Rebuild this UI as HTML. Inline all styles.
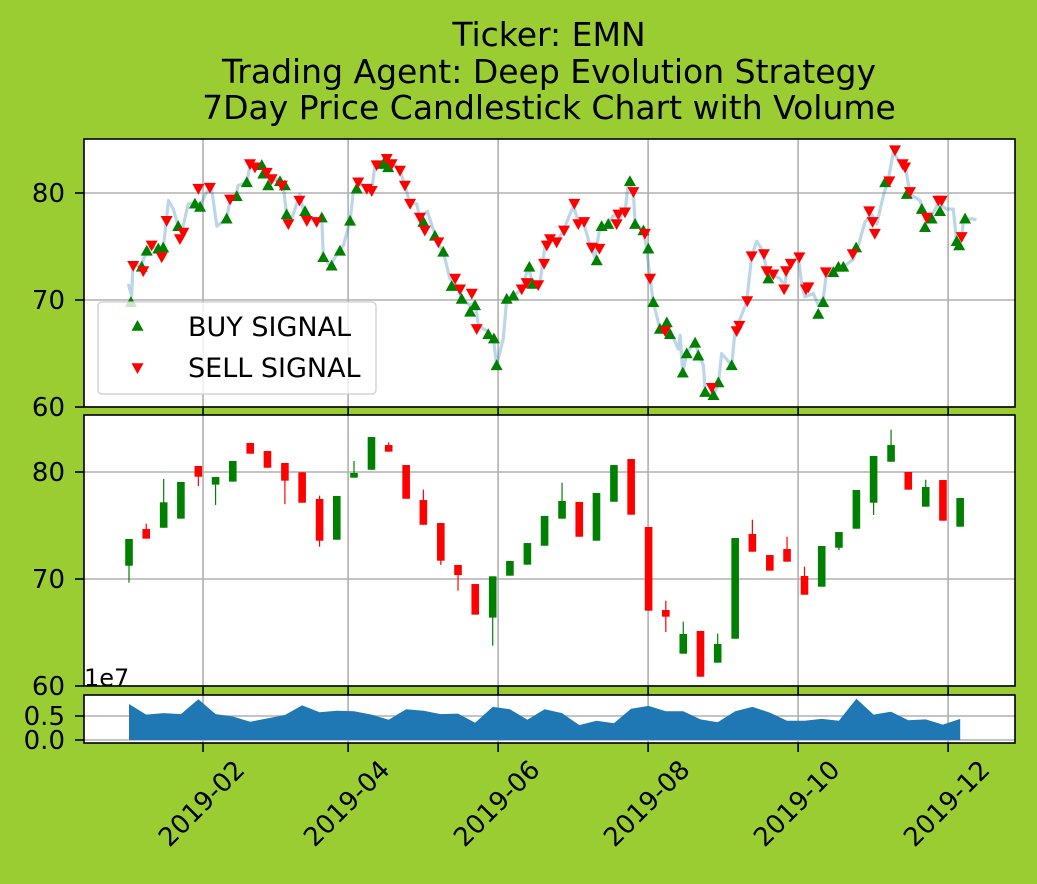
<!DOCTYPE html>
<html><head><meta charset="utf-8"><style>
html,body{margin:0;padding:0;background:#9acd32;}
svg{display:block;font-family:"DejaVu Sans","Liberation Sans",sans-serif;}
</style></head><body>
<svg id="chart" width="1037" height="884" viewBox="0 0 1037 884">
<rect width="1037" height="884" fill="#9acd32"/>
<g font-size="33" text-anchor="middle" fill="#000">
<text x="549" y="46">Ticker: EMN</text>
<text x="549" y="83">Trading Agent: Deep Evolution Strategy</text>
<text x="549" y="119">7Day Price Candlestick Chart with Volume</text>
</g>
<g id="g"></g>
</svg>
<script>
// ---------- data ----------
const lineDays=[0.6,2.0,2.5,6.1,8.1,10.1,13.5,14.8,16.2,16.9,18.9,20.9,22.3,25.0,28.4,29.8,32.5,34.5,36.6,40.6,42.0,44.7,45.2,48.8,50.1,52.8,55.5,56.9,58.2,61.0,63.6,65.0,67.1,70.4,71.8,73.8,77.2,79.3,79.9,82.6,86.0,88.1,90.8,92.1,94.1,97.6,99.6,100.9,105.7,107.7,109.1,111.1,113.1,115.2,117.9,119.2,122.2,124.6,126.7,128.7,131.4,134.2,136.2,139.6,141.6,143.0,146.4,149.1,150.4,153.1,154.5,157.2,160.6,163.3,165.3,168.0,170.1,172.1,174.8,177.5,181.6,183.6,185.6,188.4,190.4,192.4,195.8,197.9,200.6,202.6,204.0,206.0,206.7,210.1,211.4,212.8,214.1,216.8,219.6,221.6,224.3,225.0,226.1,227.7,231.1,233.1,234.5,235.2,238.6,240.6,241.9,246.0,247.3,252.1,254.1,256.2,258.9,260.2,262.9,265.6,267.6,268.3,270.4,273.1,274.5,275.8,279.2,281.2,283.2,284.6,287.3,291.4,295.4,297.5,300.2,302.9,305.0,307.6,309.7,311.7,314.4,316.5,318.5,320.5,322.6,324.6,327.3,330.0,333.4,336.1,337.5,339.5,340.2,343.6,345.5];
const linePrices=[71.5,70.4,73.2,73.4,74.5,75.1,74.5,74.8,77.6,79.3,78.5,76.9,76.3,79.0,79.1,78.8,80.1,80.4,76.9,77.6,79.4,79.9,80.7,81.0,82.6,82.4,82.6,81.9,81.0,81.3,80.7,78.0,77.6,79.9,78.3,77.6,77.4,77.6,74.1,73.2,74.5,75.1,77.4,80.1,81.0,80.4,80.2,82.6,82.7,82.6,82.6,82.1,80.7,79.0,79.0,77.6,78.3,76.6,75.2,74.5,72.0,71.3,70.1,69.5,69.8,67.6,67.1,66.4,63.9,66.4,70.1,70.4,71.0,73.1,71.3,71.6,75.1,75.7,75.4,76.5,78.8,77.3,77.3,75.1,74.0,76.8,77.1,77.9,77.7,78.2,81.0,80.1,77.1,76.5,74.8,72.0,69.8,67.3,67.9,66.8,65.4,66.7,63.2,65.1,66.0,64.6,63.9,61.4,61.1,62.1,65.0,63.9,67.0,69.8,74.1,75.5,74.5,72.7,72.3,72.0,71.3,72.7,73.4,74.0,71.3,70.3,70.6,69.5,70.1,72.6,72.6,73.1,73.8,75.1,77.3,78.0,77.1,79.7,81.3,83.8,82.9,82.6,79.9,79.6,79.3,77.6,77.9,79.0,78.5,78.5,75.4,75.7,77.4,77.6,77.5];
const buyDays=[1.7,6.1,8.1,12.8,14.8,20.9,27.7,29.8,40.6,44.7,48.8,54.9,55.5,57.5,62.3,64.3,65.0,72.5,79.3,79.9,83.3,86.7,90.8,93.5,104.3,106.3,120.6,125.3,128.7,132.1,136.2,139.6,141.6,147.0,149.3,150.4,154.5,157.2,163.7,165.1,191.1,193.1,195.8,204.6,206.7,210.1,212.1,214.1,216.8,219.6,220.9,226.1,227.7,231.1,232.4,235.2,238.6,240.6,246.0,260.9,281.2,283.2,287.3,289.4,291.4,296.6,308.4,317.2,323.3,324.6,327.3,330.7,337.5,338.5,340.9];
const buyPrices=[69.8,73.1,74.6,74.8,74.9,76.9,79.0,78.7,77.6,79.7,81.0,82.6,81.8,80.7,81.1,80.7,78.0,78.3,77.7,74.0,73.2,74.6,77.4,80.4,82.7,82.4,77.3,76.0,74.5,71.3,70.1,68.9,69.5,66.8,66.4,63.9,70.1,70.4,73.1,71.5,73.7,76.9,77.1,81.1,77.1,76.5,74.8,69.8,67.3,67.9,66.8,63.2,65.0,66.0,64.8,61.4,61.1,62.3,63.9,72.0,68.7,69.8,72.6,73.1,73.1,74.9,81.0,79.9,78.5,76.8,77.6,78.3,75.5,75.1,77.6];
const sellDays=[2.6,6.7,10.1,14.2,16.2,21.6,23.0,29.1,33.8,42.0,50.1,52.1,56.9,58.9,63.0,65.7,70.2,73.2,77.2,94.1,97.6,99.6,101.6,105.7,107.7,111.1,113.1,115.2,119.2,121.2,126.7,133.5,135.5,140.3,142.3,160.6,162.6,167.3,169.7,170.8,172.1,174.8,177.8,182.0,183.6,186.0,189.1,192.2,199.2,199.9,202.6,206.0,210.7,212.8,218.9,237.9,248.0,249.1,252.3,254.1,259.1,260.2,262.9,267.3,268.1,270.0,273.5,276.2,277.2,284.3,295.2,301.9,303.3,304.2,310.1,312.4,315.5,316.5,318.5,325.3,330.0,331.4,339.5];
const sellPrices=[73.2,72.7,75.1,74.0,77.4,75.7,76.3,80.4,80.5,79.4,82.7,82.4,81.9,81.3,80.7,77.1,79.3,77.4,77.3,81.0,80.4,80.2,82.6,83.2,82.7,82.1,80.7,79.0,77.7,76.5,75.4,72.0,71.0,70.6,67.3,71.0,71.6,71.4,73.4,75.1,75.7,75.4,76.5,79.0,77.1,77.3,74.9,74.8,77.1,78.0,78.2,80.1,76.2,72.0,67.1,61.8,67.1,67.6,69.9,74.1,74.3,72.7,72.4,71.0,72.7,73.4,74.0,71.0,71.2,72.6,74.3,78.3,77.3,76.2,81.1,84.0,82.7,82.4,80.1,77.7,79.3,79.3,75.9];
// weekly candles
const candleDays=[0.9,7.9,15.0,22.0,29.1,36.1,43.1,50.2,57.2,64.3,71.3,78.4,85.4,92.4,99.5,106.5,113.6,120.6,127.7,134.7,141.7,148.8,155.8,162.9,169.9,177.0,184.0,191.0,198.1,205.1,212.2,219.2,226.3,233.3,240.3,247.4,254.4,261.5,268.5,275.6,282.6,289.6,296.7,303.7,310.8,317.8,324.9,331.9,338.9];
const opens=[71.24,74.67,74.79,75.64,80.56,78.82,79.1,82.71,81.96,80.84,79.97,77.48,73.67,79.47,80.21,82.52,80.65,77.38,75.23,71.31,69.53,66.39,70.31,71.34,73.11,75.64,77.2,73.58,77.22,81.21,74.86,67.1,63.02,65.14,62.18,64.42,74.21,72.24,72.8,70.28,69.28,72.92,74.7,77.13,80.96,80.0,76.76,79.25,74.89];
const closes=[73.74,73.77,77.17,79.07,79.56,79.53,81.03,81.71,80.4,79.19,77.13,73.58,77.76,79.91,83.27,81.9,77.5,75.07,71.71,70.37,66.67,70.25,71.68,73.36,75.89,77.29,73.95,78.04,80.65,76.01,67.04,66.48,64.86,60.87,63.93,73.83,72.55,70.78,71.62,68.53,73.08,74.39,78.32,81.5,82.52,78.35,78.6,75.45,77.57];
const highs=[73.74,75.17,79.35,79.07,80.56,79.53,81.03,82.71,81.96,80.84,79.97,77.79,77.76,81.03,83.27,82.77,80.65,78.35,75.23,71.31,69.53,70.25,71.68,73.36,75.89,79.0,77.2,78.04,80.65,81.21,74.86,67.97,66.01,65.14,64.89,73.83,75.54,72.24,73.95,71.15,73.08,74.39,78.32,81.5,83.95,80.0,79.28,79.25,77.57];
const lows=[69.65,73.77,74.79,75.64,78.69,76.92,79.1,81.71,80.4,77.0,77.13,73.02,73.67,79.47,80.21,81.9,77.5,75.07,71.31,68.91,66.67,63.77,70.31,71.34,73.11,75.64,73.95,73.58,77.22,76.01,67.04,65.05,63.02,60.87,62.18,64.42,72.55,70.78,71.62,68.53,69.28,72.71,74.7,75.98,80.96,78.35,76.76,75.45,74.89];
const volumes=[0.75,0.53,0.56,0.54,0.85,0.54,0.49,0.38,0.45,0.52,0.72,0.58,0.61,0.60,0.53,0.42,0.64,0.61,0.54,0.55,0.36,0.69,0.64,0.42,0.64,0.56,0.31,0.40,0.35,0.65,0.71,0.60,0.60,0.43,0.37,0.60,0.69,0.57,0.40,0.40,0.44,0.40,0.86,0.53,0.59,0.41,0.43,0.32,0.44];
const priceTicks=[60,70,80];
const volTicks=[0.0,0.5];
const dateTickDays=[31,90,151,212,273,334];
const dateTickLabels=["2019-02","2019-04","2019-06","2019-08","2019-10","2019-12"];

// ---------- scales ----------
const X0=84,X1=1015;
const xs=d=>126.8+2.459*d;
const P1={top:139,bot:407}, P2={top:415,bot:686}, P3={top:695,bot:743};
const y1=p=>407-(p-60)*10.7;
const y2=p=>686-(p-60)*10.7;
const y3=v=>740-v*48;
const NS="http://www.w3.org/2000/svg";
const g=document.getElementById('g');
function el(tag,attrs,parent){const e=document.createElementNS(NS,tag);for(const k in attrs)e.setAttribute(k,attrs[k]);(parent||g).appendChild(e);return e;}

function panel(p,name){
  const grp=el('g',{});
  
  
  el('rect',{x:X0,y:p.top,width:X1-X0,height:p.bot-p.top,fill:'#fff'},grp);
  dateTickDays.forEach(d=>{const l=el('line',{x1:xs(d),x2:xs(d),y1:p.top,y2:p.bot,stroke:'#b0b0b0','stroke-width':1.6},grp);
    
    el('line',{x1:xs(d),x2:xs(d),y1:p.bot,y2:p.bot+9,stroke:'#000','stroke-width':1.6},grp);});
  return grp;
}
function frame(p,grp){el('rect',{x:X0,y:p.top,width:X1-X0,height:p.bot-p.top,fill:'none',stroke:'#000','stroke-width':1.6},grp);}
function yticks(p,ticks,fy,fmt,grp){
  ticks.forEach(t=>{const y=fy(t);
    const l=el('line',{x1:X0,x2:X1,y1:y,y2:y,stroke:'#b0b0b0','stroke-width':1.6},grp);
    
    el('line',{x1:X0-9,x2:X0,y1:y,y2:y,stroke:'#000','stroke-width':1.6},grp);
    const tx=el('text',{x:X0-19,y:y+9,'font-size':26,'text-anchor':'end'},grp);tx.textContent=fmt(t);
    });
}
// panel 1
const g1=panel(P1,'price-signal-panel');
yticks(P1,priceTicks,y1,t=>String(t),g1);
const path=lineDays.map((d,i)=>(i?'L':'M')+xs(d).toFixed(1)+','+y1(linePrices[i]).toFixed(1)).join('');
const pl=el('path',{d:path,fill:'none',stroke:'#1f77b4','stroke-opacity':0.3,'stroke-width':3.2,'stroke-linejoin':'round'},g1);

function tri(x,y,up,color,parent){const s=6;
  const pts=up?`${x},${y-s} ${x-s},${y+s*0.8} ${x+s},${y+s*0.8}`:`${x},${y+s} ${x-s},${y-s*0.8} ${x+s},${y-s*0.8}`;
  return el('polygon',{points:pts,fill:color},parent);}
buyDays.forEach((d,i)=>{const t=tri(xs(d),y1(buyPrices[i]),true,'#008000',g1);
  });
sellDays.forEach((d,i)=>{const t=tri(xs(d),y1(sellPrices[i]),false,'#ff0000',g1);
  });
// legend
const lg=el('g',{},g1);

el('rect',{x:98,y:302,width:278,height:92,rx:4,fill:'#fff','fill-opacity':0.8,stroke:'#ccc','stroke-width':1.3},lg);
tri(137.5,326,true,'#008000',lg);
const lt1=el('text',{x:188,y:336,'font-size':27},lg);lt1.textContent='BUY SIGNAL';

tri(137.5,368,false,'#ff0000',lg);
const lt2=el('text',{x:188,y:377,'font-size':27},lg);lt2.textContent='SELL SIGNAL';

frame(P1,g1);
// panel 2 candles
const g2=panel(P2,'candlestick-panel');
yticks(P2,priceTicks,y2,t=>String(t),g2);
candleDays.forEach((d,i)=>{
  const x=xs(d),o=opens[i],c=closes[i],col=c>=o?'#008000':'#ff0000';
  const w=el('line',{x1:x,x2:x,y1:y2(highs[i]),y2:y2(lows[i]),stroke:col,'stroke-width':1.2},g2);
  
  const top=y2(Math.max(o,c)),bot=y2(Math.min(o,c));
  const b=el('rect',{x:x-3.8,y:top,width:7.6,height:Math.max(1,bot-top),fill:col},g2);
  
});
frame(P2,g2);
const e7=el('text',{x:84,y:686,'font-size':24},g2);e7.textContent='1e7';

// panel 3 volume
const g3=panel(P3,'volume-panel');
yticks(P3,volTicks,y3,t=>t.toFixed(1),g3);
let vp='M'+xs(candleDays[0]).toFixed(1)+','+y3(0);
candleDays.forEach((d,i)=>{vp+='L'+xs(d).toFixed(1)+','+y3(volumes[i]).toFixed(1);});
vp+='L'+xs(candleDays[candleDays.length-1]).toFixed(1)+','+y3(0)+'Z';
const va=el('path',{d:vp,fill:'#1f77b4'},g3);

frame(P3,g3);
// x tick labels
dateTickDays.forEach((d,i)=>{const x=xs(d)+30,y=758;
  const t=el('text',{x:x,y:y,'font-size':26,'text-anchor':'end',transform:`rotate(-45 ${x} ${y})`,dy:'0.72em'});
  t.textContent=dateTickLabels[i];
  });
</script>
</body></html>
